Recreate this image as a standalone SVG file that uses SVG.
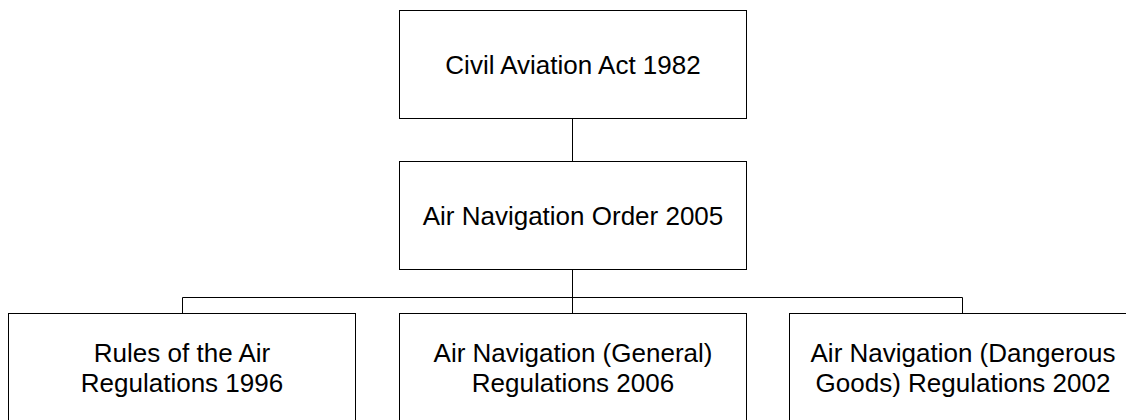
<svg xmlns="http://www.w3.org/2000/svg" width="1126" height="420" viewBox="0 0 1126 420">
<style>
.box{fill:#fff;stroke:#000;stroke-width:1}
.lbl{font-family:"Liberation Sans",Arial,sans-serif;font-size:26px;fill:#000;text-anchor:middle}
.con{fill:none;stroke:#000;stroke-width:1}
</style>
<rect width="1126" height="420" fill="#fff"/>
<g id="connectors">
<path class="con" d="M572.5,118 V162"/>
<path class="con" d="M572.5,269 V313"/>
<path class="con" d="M182.5,313 V297.5 H962.5 V313"/>
</g>
<g id="n1">
<rect class="box" x="399.5" y="10.5" width="347" height="108"/>
<text class="lbl" x="573" y="73.5">Civil Aviation Act 1982</text>
</g>
<g id="n2">
<rect class="box" x="399.5" y="161.5" width="347" height="108"/>
<text class="lbl" x="573" y="224.5">Air Navigation Order 2005</text>
</g>
<g id="n3">
<rect class="box" x="8.5" y="313.5" width="347" height="120"/>
<text class="lbl" x="182" y="362">Rules of the Air</text>
<text class="lbl" x="182" y="392">Regulations 1996</text>
</g>
<g id="n4">
<rect class="box" x="399.5" y="313.5" width="347" height="120"/>
<text class="lbl" x="573" y="362">Air Navigation (General)</text>
<text class="lbl" x="573" y="392">Regulations 2006</text>
</g>
<g id="n5">
<rect class="box" x="789.5" y="313.5" width="347" height="120"/>
<text class="lbl" x="963" y="362">Air Navigation (Dangerous</text>
<text class="lbl" x="963" y="392">Goods) Regulations 2002</text>
</g>
</svg>
